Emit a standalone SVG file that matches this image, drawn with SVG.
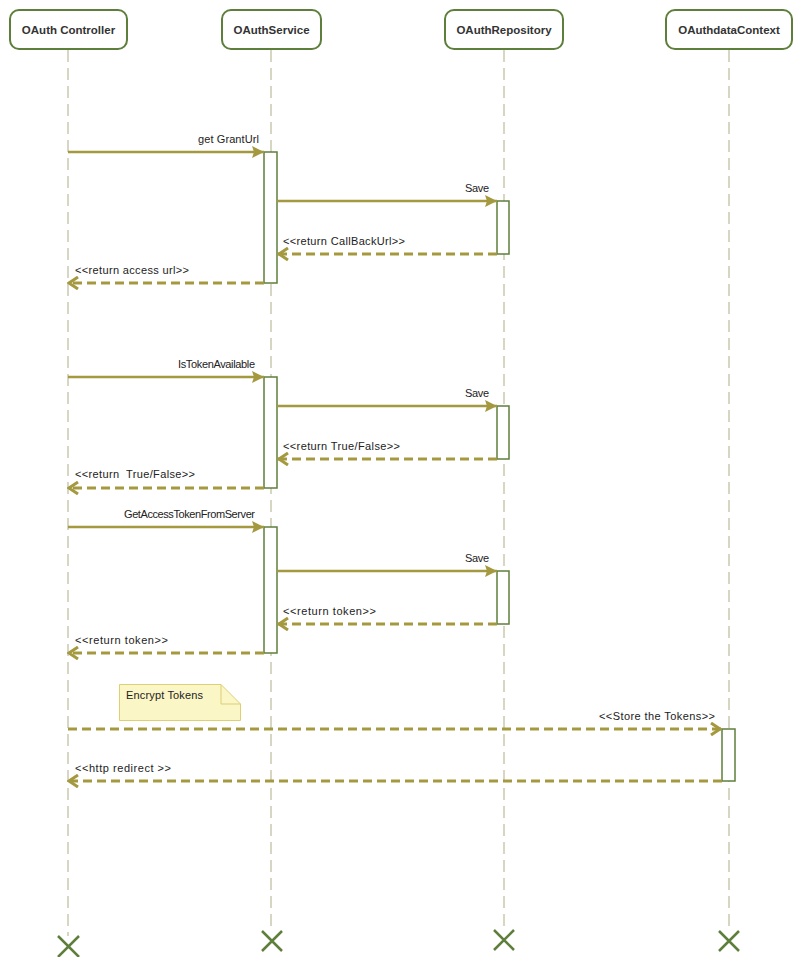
<svg xmlns="http://www.w3.org/2000/svg" width="801" height="957" viewBox="0 0 801 957">
<style>
.hdr rect{fill:#fff;stroke:#5e7f3c;stroke-width:2}
.hdr text{font-family:"Liberation Sans",Arial,sans-serif;font-size:11.5px;font-weight:bold;fill:#333;text-anchor:middle}
.life{stroke:#d6d6c2;stroke-width:2;stroke-dasharray:12 6;fill:none}
.act{fill:#fff;stroke:#5e7f3c;stroke-width:1.5}
.msg{stroke:#a5993f;stroke-width:2.5;fill:none}
.ret{stroke:#a5993f;stroke-width:3;fill:none;stroke-dasharray:9 5}
.lbl{font-family:"Liberation Sans",Arial,sans-serif;font-size:11px;fill:#222}
.end{stroke:#5e7f3c;stroke-width:2.5;fill:none}
.note{fill:#fbf6c6;stroke:#dccf74;stroke-width:1}
</style>
<defs>
<marker id="solid" viewBox="0 0 12 12" refX="12" refY="6" markerWidth="12" markerHeight="12" markerUnits="userSpaceOnUse" orient="auto">
<path d="M0,0 L12,6 L0,12 L2,6 Z" fill="#a5993f"/>
</marker>
<marker id="open" viewBox="0 0 12 14" refX="11" refY="7" markerWidth="12" markerHeight="14" markerUnits="userSpaceOnUse" orient="auto">
<path d="M1,1 L10,7 L1,13" fill="none" stroke="#a5993f" stroke-width="3"/>
</marker>
</defs>

<g id="lifelines">
<line class="life" x1="68" y1="50" x2="68" y2="936"/>
<line class="life" x1="271" y1="50" x2="271" y2="931"/>
<line class="life" x1="504" y1="50" x2="504" y2="931"/>
<line class="life" x1="729" y1="50" x2="729" y2="931"/>
</g>

<g id="OAuthController" class="hdr"><rect x="10" y="10" width="117" height="39" rx="9"/><text x="68.5" y="34">OAuth Controller</text></g>
<g id="OAuthService" class="hdr"><rect x="222" y="10" width="99" height="39" rx="9"/><text x="271.5" y="34">OAuthService</text></g>
<g id="OAuthRepository" class="hdr"><rect x="445" y="10" width="118" height="39" rx="9"/><text x="504" y="34">OAuthRepository</text></g>
<g id="OAuthdataContext" class="hdr"><rect x="666" y="10" width="126" height="39" rx="9"/><text x="729" y="34">OAuthdataContext</text></g>

<g id="activations">
<rect class="act" x="264" y="152" width="13" height="131"/>
<rect class="act" x="497" y="201" width="12" height="53"/>
<rect class="act" x="264" y="377" width="13" height="111"/>
<rect class="act" x="497" y="406" width="12" height="53"/>
<rect class="act" x="264" y="527" width="13" height="126"/>
<rect class="act" x="497" y="571" width="12" height="53"/>
<rect class="act" x="722" y="729" width="13" height="52"/>
</g>

<g id="note">
<path class="note" d="M119.5,684.5 H221 L240.5,704 V720.5 H119.5 Z"/>
<path d="M221,684.5 V704 H240.5" fill="none" stroke="#dccf74" stroke-width="1"/>
<text class="lbl" x="126" y="699" textLength="77" lengthAdjust="spacing">Encrypt Tokens</text>
</g>

<g id="connectors">
<line class="msg" x1="68" y1="152" x2="264" y2="152" marker-end="url(#solid)"/>
<text class="lbl" x="198" y="143" textLength="61" lengthAdjust="spacing">get GrantUrl</text>
<line class="msg" x1="277" y1="201" x2="497" y2="201" marker-end="url(#solid)"/>
<text class="lbl" x="465" y="192" textLength="24" lengthAdjust="spacing">Save</text>
<line class="ret" x1="497" y1="254" x2="278" y2="254" marker-end="url(#open)"/>
<text class="lbl" x="283" y="245" textLength="122" lengthAdjust="spacing">&lt;&lt;return CallBackUrl&gt;&gt;</text>
<line class="ret" x1="264" y1="283" x2="68" y2="283" marker-end="url(#open)"/>
<text class="lbl" x="75" y="274" textLength="114" lengthAdjust="spacing">&lt;&lt;return access url&gt;&gt;</text>

<line class="msg" x1="68" y1="377" x2="264" y2="377" marker-end="url(#solid)"/>
<text class="lbl" x="178" y="368" textLength="77" lengthAdjust="spacing">IsTokenAvailable</text>
<line class="msg" x1="277" y1="406" x2="497" y2="406" marker-end="url(#solid)"/>
<text class="lbl" x="465" y="397" textLength="24" lengthAdjust="spacing">Save</text>
<line class="ret" x1="497" y1="459" x2="278" y2="459" marker-end="url(#open)"/>
<text class="lbl" x="283" y="450" textLength="117" lengthAdjust="spacing">&lt;&lt;return True/False&gt;&gt;</text>
<line class="ret" x1="264" y1="488" x2="68" y2="488" marker-end="url(#open)"/>
<text class="lbl" x="75" y="478" xml:space="preserve" textLength="120" lengthAdjust="spacing">&lt;&lt;return  True/False&gt;&gt;</text>

<line class="msg" x1="68" y1="527" x2="264" y2="527" marker-end="url(#solid)"/>
<text class="lbl" x="124" y="518" textLength="131" lengthAdjust="spacing">GetAccessTokenFromServer</text>
<line class="msg" x1="277" y1="571" x2="497" y2="571" marker-end="url(#solid)"/>
<text class="lbl" x="465" y="562" textLength="24" lengthAdjust="spacing">Save</text>
<line class="ret" x1="497" y1="624" x2="278" y2="624" marker-end="url(#open)"/>
<text class="lbl" x="283" y="615" textLength="93" lengthAdjust="spacing">&lt;&lt;return token&gt;&gt;</text>
<line class="ret" x1="264" y1="653" x2="68" y2="653" marker-end="url(#open)"/>
<text class="lbl" x="75" y="644" textLength="93" lengthAdjust="spacing">&lt;&lt;return token&gt;&gt;</text>

<line class="ret" x1="68" y1="729" x2="721" y2="729" marker-end="url(#open)"/>
<text class="lbl" x="599" y="720" textLength="116" lengthAdjust="spacing">&lt;&lt;Store the Tokens&gt;&gt;</text>
<line class="ret" x1="722" y1="781" x2="68" y2="781" marker-end="url(#open)"/>
<text class="lbl" x="75" y="772" textLength="96" lengthAdjust="spacing">&lt;&lt;http redirect &gt;&gt;</text>
</g>

<g id="destroy">
<path class="end" d="M58,936 L79,957 M79,936 L58,957"/>
<path class="end" d="M262,931 L282,951 M282,931 L262,951"/>
<path class="end" d="M494,930 L514,950 M514,930 L494,950"/>
<path class="end" d="M719,931 L739,951 M739,931 L719,951"/>
</g>
</svg>
